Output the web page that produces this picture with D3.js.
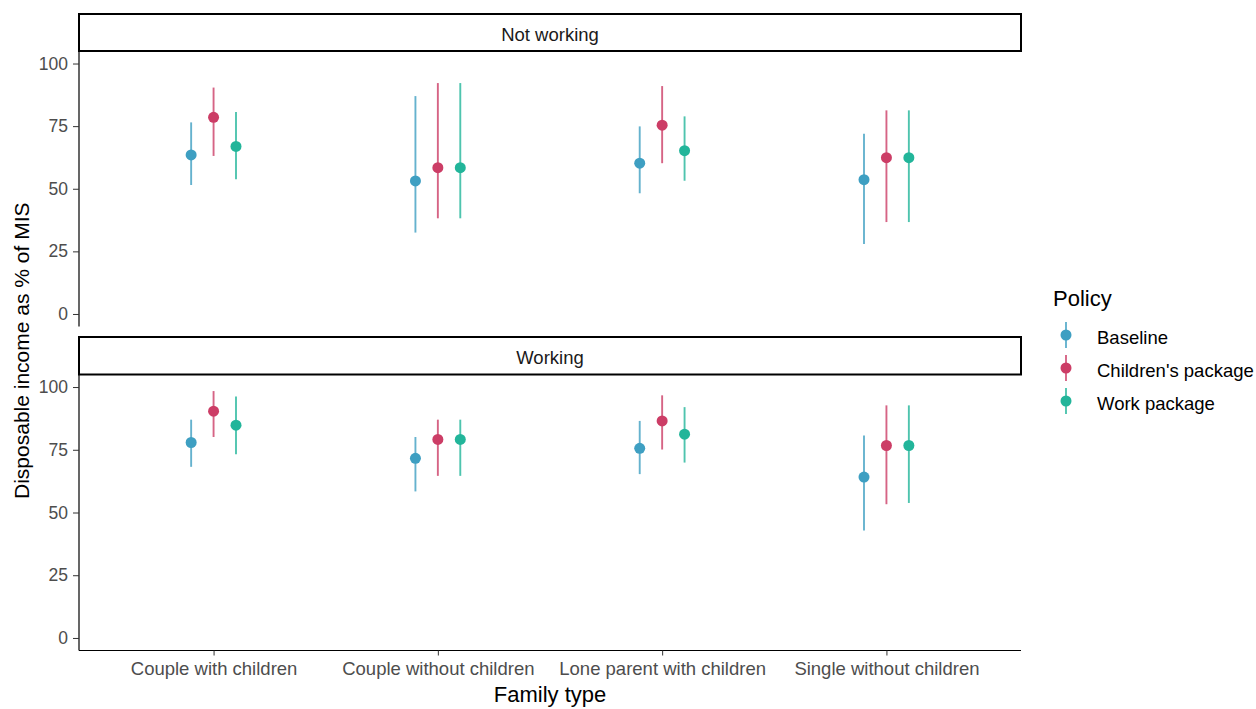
<!DOCTYPE html>
<html>
<head>
<meta charset="utf-8">
<script src="https://cdn.jsdelivr.net/npm/d3@7"></script>
<style>
  body { margin: 0; background: #fff; }
  text { font-family: 'Liberation Sans', Arial, sans-serif; }
</style>
</head>
<body>
<script>
// data
const familyTypes = ['Couple with children', 'Couple without children', 'Lone parent with children', 'Single without children'];
const policies = ['Baseline', "Children's package", 'Work package'];
const facets = ['Not working', 'Working'];
const yTicks = [0, 25, 50, 75, 100];

// [family][policy] -> point, low, high
const notWorkingMid = [[63.5, 78.5, 66.9], [53.1, 58.4, 58.4], [60.2, 75.4, 65.2], [53.6, 62.4, 62.4]];
const notWorkingLow = [[51.5, 63.1, 53.8], [32.5, 38.2, 38.2], [48.2, 60.2, 53.2], [27.9, 36.7, 36.7]];
const notWorkingHigh = [[76.5, 90.4, 80.6], [87.0, 92.2, 92.2], [74.9, 91.0, 78.9], [72.0, 81.3, 81.3]];
const workingMid = [[77.9, 90.4, 84.8], [71.6, 79.1, 79.1], [75.6, 86.5, 81.2], [64.1, 76.7, 76.7]];
const workingLow = [[68.2, 80.1, 73.2], [58.4, 64.6, 64.6], [65.3, 75.1, 69.9], [42.8, 53.3, 53.8]];
const workingHigh = [[87.0, 98.4, 96.2], [80.1, 87.0, 87.0], [86.5, 96.7, 92.0], [80.7, 92.7, 92.7]];

const colors = ['#3e9fc2', '#cc3d66', '#22b59a'];

const width = 1256;
const height = 709;
const left = 79, right = 1021;

const svg = d3.select('body').append('svg').attr('width', width).attr('height', height);

const x = d3.scaleBand().domain(familyTypes).range([left, right]).paddingOuter(0.6).paddingInner(1);
// band with paddingInner 1 -> bandwidth 0, so x(d) is the center
const step = x.step();
const dodge = d3.scalePoint().domain(policies).range([-0.1 * step, 0.1 * step]);

const panels = [
  { name: facets[0], stripTop: 14, top: 51, bottom: 326.5, mid: notWorkingMid, low: notWorkingLow, high: notWorkingHigh, xAxis: false },
  { name: facets[1], stripTop: 337, top: 374.5, bottom: 650.5, mid: workingMid, low: workingLow, high: workingHigh, xAxis: true }
];

panels.forEach((p) => {
  const y = d3.scaleLinear().domain([-5, 105]).range([p.bottom, p.top]);
  const g = svg.append('g');

  // strip
  g.append('rect')
    .attr('x', left).attr('y', p.stripTop)
    .attr('width', right - left).attr('height', p.top - p.stripTop)
    .attr('fill', '#fff').attr('stroke', '#000').attr('stroke-width', 2);
  g.append('text')
    .attr('x', (left + right) / 2).attr('y', (p.stripTop + p.top) / 2 + 8.5)
    .attr('text-anchor', 'middle').style('font-size', '18.5px').attr('fill', '#1a1a1a')
    .text(p.name);

  // y axis
  const ya = g.append('g').attr('transform', `translate(${left},0)`)
    .call(d3.axisLeft(y).tickValues(yTicks).tickSize(6).tickPadding(5));
  ya.select('.domain').attr('stroke', '#000').attr('stroke-width', 1.2).attr('d', `M0,${p.top}V${p.bottom}`);
  ya.selectAll('.tick line').attr('stroke', '#333');
  ya.selectAll('.tick text').attr('fill', '#4d4d4d').style('font-size', '17.5px')
    .style('font-family', "'Liberation Sans', Arial, sans-serif");

  if (p.xAxis) {
    const xa = g.append('g').attr('transform', `translate(0,${p.bottom})`)
      .call(d3.axisBottom(x).tickSize(5).tickPadding(6));
    xa.select('.domain').attr('stroke', '#000').attr('stroke-width', 1.2).attr('d', `M${left},0H${right}`);
    xa.selectAll('.tick line').attr('stroke', '#333');
    xa.selectAll('.tick text').attr('fill', '#4d4d4d').style('font-size', '18.5px')
      .style('font-family', "'Liberation Sans', Arial, sans-serif");
  }

  // pointranges
  familyTypes.forEach((f, i) => {
    policies.forEach((pol, j) => {
      const cx = x(f) + dodge(pol);
      g.append('line')
        .attr('x1', cx).attr('x2', cx)
        .attr('y1', y(p.low[i][j])).attr('y2', y(p.high[i][j]))
        .attr('stroke', colors[j]).attr('stroke-opacity', 0.8).attr('stroke-width', 1.9);
      g.append('circle')
        .attr('cx', cx).attr('cy', y(p.mid[i][j])).attr('r', 5.5)
        .attr('fill', colors[j]);
    });
  });
});

// axis titles
svg.append('text')
  .attr('x', (left + right) / 2).attr('y', 702)
  .attr('text-anchor', 'middle').style('font-size', '22px').attr('fill', '#000')
  .text('Family type');
svg.append('text')
  .attr('transform', `translate(29,${(51 + 650.5) / 2}) rotate(-90)`)
  .attr('text-anchor', 'middle').style('font-size', '21px').attr('fill', '#000')
  .text('Disposable income as % of MIS');

// legend
const legend = svg.append('g');
legend.append('text')
  .attr('x', 1053).attr('y', 306).style('font-size', '22px').attr('fill', '#000')
  .text('Policy');
policies.forEach((pol, j) => {
  const ly = 335 + j * 33;
  legend.append('line')
    .attr('x1', 1066).attr('x2', 1066).attr('y1', ly - 13).attr('y2', ly + 13)
    .attr('stroke', colors[j]).attr('stroke-opacity', 0.8).attr('stroke-width', 1.9);
  legend.append('circle').attr('cx', 1066).attr('cy', ly).attr('r', 5.5).attr('fill', colors[j]);
  legend.append('text')
    .attr('x', 1097).attr('y', ly + 9).style('font-size', '18.5px').attr('fill', '#000')
    .text(pol);
});
</script>
</body>
</html>
